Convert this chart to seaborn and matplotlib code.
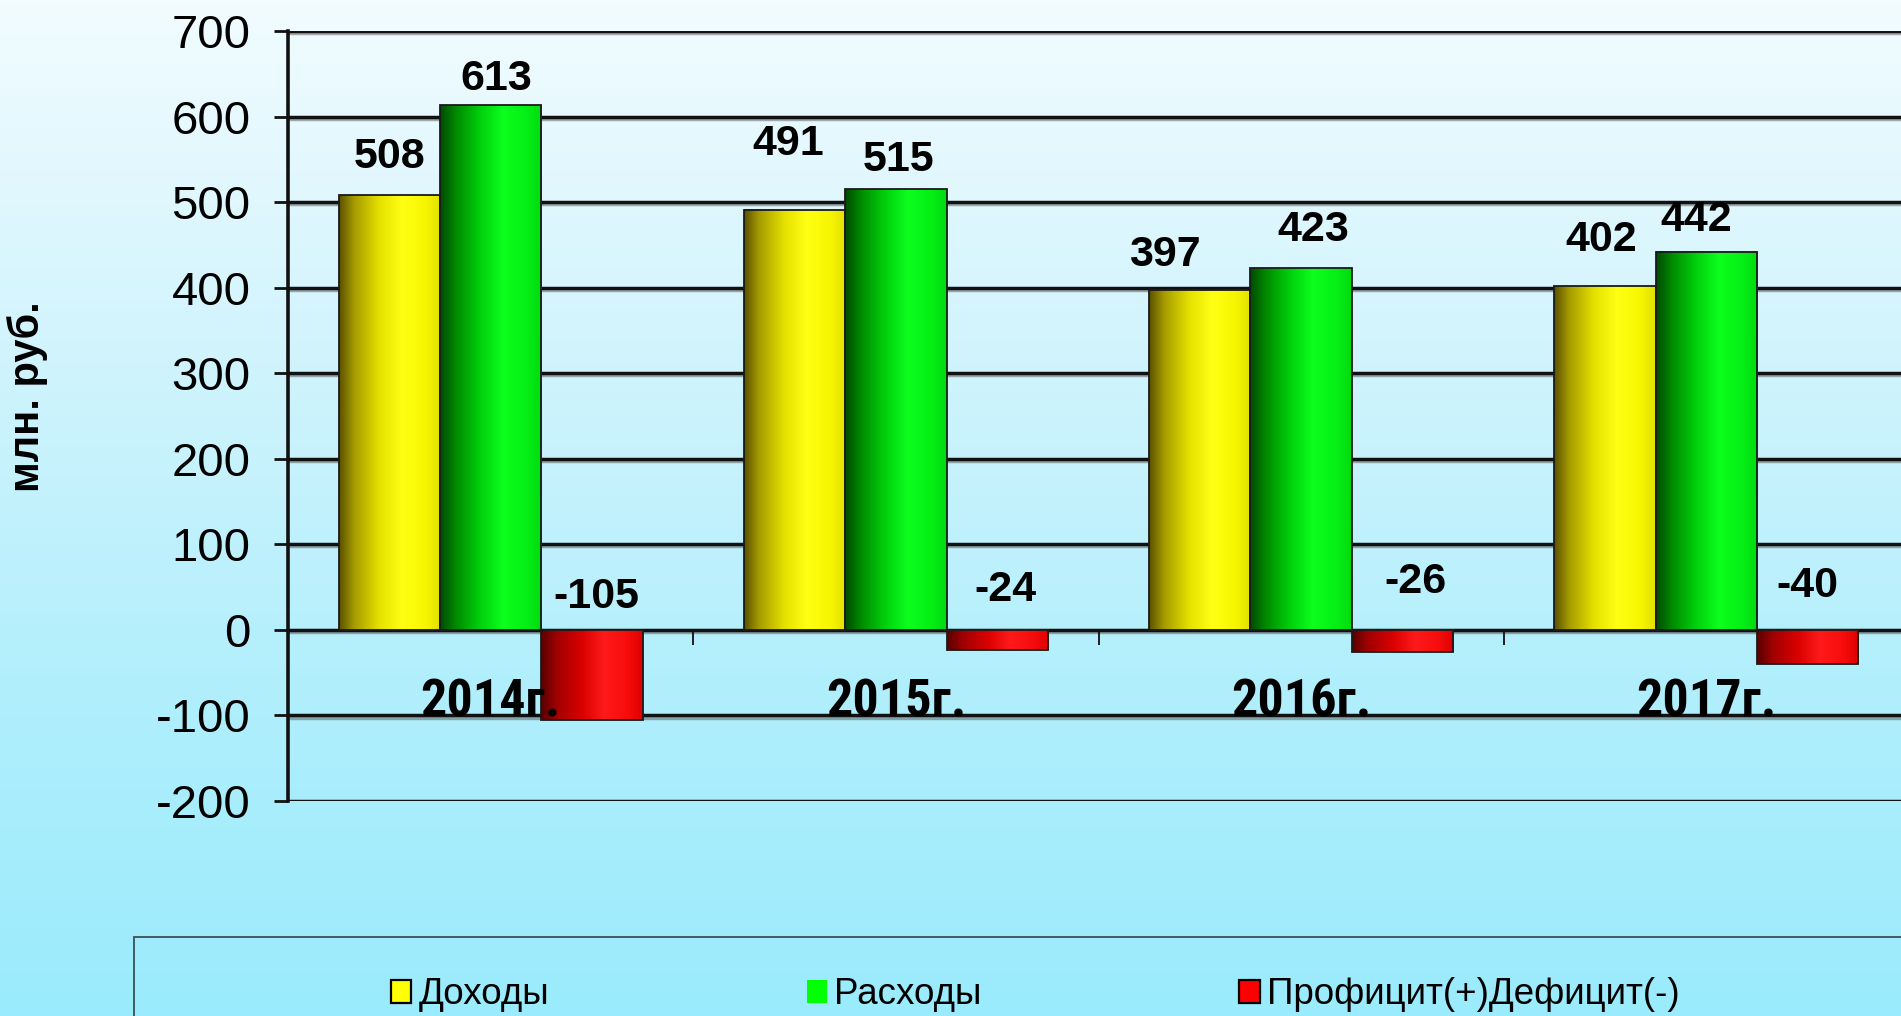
import numpy as np
import pandas as pd
import matplotlib
matplotlib.use("Agg")
import matplotlib.pyplot as plt
import matplotlib.patheffects as pe
from matplotlib.colors import LinearSegmentedColormap
from matplotlib.patches import Patch, Rectangle
import seaborn as sns

# ---------------- data ----------------
years = ["2014г.", "2015г.", "2016г.", "2017г."]
series_names = ["Доходы", "Расходы", "Профицит(+)Дефицит(-)"]
income = [508, 491, 397, 402]
expense = [613, 515, 423, 442]
balance = [-105, -24, -26, -40]
y_ticks = list(range(-200, 701, 100))
y_label = "млн. руб."

# label offsets (pixels) relative to bar top / zero line: style only
label_dx = [[0, -6, -35, -4], [6, 3, 12, -10], [4, 8, 13, 0]]
label_dy = [[27, 55, 24, 35], [15, 18, 27, 21], [22, 29, 37, 33]]

DPI = 100
W, H = 1901, 1016

sns.set_theme(style="white")
plt.rcParams["font.family"] = ["Liberation Sans", "DejaVu Sans"]
plt.rcParams["text.color"] = "black"

df = pd.DataFrame({
    "year": np.repeat([years], 3, axis=0).ravel(),
    "series": np.repeat(series_names, len(years)),
    "value": income + expense + balance,
})

fig = plt.figure(figsize=(W / DPI, H / DPI), dpi=DPI)

# background gradient
bg = fig.add_axes([0, 0, 1, 1], zorder=-10)
bg_cmap = LinearSegmentedColormap.from_list("bg", ["#f2fcff", "#d2f4fd", "#b2effc", "#9aebfd"])
bg.imshow(np.linspace(0, 1, 256).reshape(-1, 1), aspect="auto", cmap=bg_cmap,
          extent=[0, 1, 0, 1], interpolation="bicubic")
bg.set_axis_off()

left = 288 / W
right = 1909 / W
bottom = 1 - 801 / H
top = 1 - 31 / H
ax = fig.add_axes([left, bottom, right - left, top - bottom])
ax.set_facecolor("none")

solid = ["#ffff00", "#00ff00", "#ff0000"]
sns.barplot(data=df, x="year", y="value", hue="series", hue_order=series_names,
            order=years, palette=solid, width=0.75, ax=ax, legend=False,
            edgecolor="#1a1a1a", linewidth=1.3, saturation=1, zorder=3)

grad_stops = [
    ["#5a5000", "#a69c00", "#e6e200", "#ffff14", "#f6f600", "#e0e000"],
    ["#004a00", "#008800", "#00d20c", "#0cff1e", "#05ef15", "#00da10"],
    ["#580000", "#9e0000", "#da0000", "#ff1a1a", "#f70c0c", "#de0000"],
]
pos = [0, 0.15, 0.4, 0.62, 0.85, 1]
grad = np.linspace(0, 1, 256).reshape(1, -1)
px2pt = 72 / DPI
for i, cont in enumerate(ax.containers):
    cmap = LinearSegmentedColormap.from_list(f"g{i}", list(zip(pos, grad_stops[i])))
    for j, bar in enumerate(cont.patches):
        x0, w = bar.get_x(), bar.get_width()
        y0, h = bar.get_y(), bar.get_height()
        ax.imshow(grad, aspect="auto", cmap=cmap, extent=[x0, x0 + w, y0, y0 + h],
                  interpolation="bicubic", zorder=2.9)
        bar.set_facecolor("none")
        val = [income, expense, balance][i][j]
        anchor = max(val, 0)
        ax.annotate(f"{val}", xy=(x0 + w / 2, anchor),
                    xytext=(label_dx[i][j] * px2pt, label_dy[i][j] * px2pt),
                    textcoords="offset points", ha="center", va="baseline",
                    fontsize=31, fontweight="bold", color="black", zorder=5)

ax.set_xlim(-0.5, len(years) - 0.5)
ax.set_ylim(-200, 700)
ax.set_yticks(y_ticks)
ax.set_yticklabels([str(t) for t in y_ticks])
ax.set_xlabel("")

# grid
ax.set_axisbelow(True)
ax.yaxis.grid(True, color="#111111", linewidth=2.5)
for gl in ax.get_ygridlines():
    gl.set_path_effects([pe.SimpleLineShadow(offset=(1, -1.5), shadow_color="0.35", alpha=0.5),
                         pe.Normal()])
ax.xaxis.grid(False)
ax.xaxis.set_zorder(6)

for s in ["top", "right"]:
    ax.spines[s].set_visible(False)
ax.spines["left"].set_linewidth(2.6)
ax.spines["left"].set_color("#111111")
ax.spines["bottom"].set_position(("data", 0))
ax.spines["bottom"].set_linewidth(2.2)
ax.spines["bottom"].set_color("#111111")

ax.tick_params(axis="y", which="major", direction="out", length=10, width=2,
               color="#111111", pad=17, labelsize=34, labelcolor="black", left=True)

narrow_family = ["Roboto Condensed", "PT Sans Narrow", "Liberation Sans", "DejaVu Sans"]
ax.set_xticks(range(len(years)))
ax.set_xticklabels(years, fontsize=37.5, fontweight="bold", family=narrow_family)
ax.set_xticks(np.arange(0.5, len(years) - 0.5, 1), minor=True)
ax.tick_params(axis="x", which="major", length=0, pad=34, labelcolor="black", bottom=True)
ax.tick_params(axis="x", which="minor", length=11, width=1.3, color="#111111",
               direction="out", bottom=True)

# y label
ax.set_ylabel(y_label, fontsize=30, fontweight="bold", color="black")
ax.yaxis.set_label_coords((48 - 288) / (1909 - 288), (801 - 397) / 770)

# legend frame
fig.patches.append(Rectangle((134 / W, -0.1), 1.0, (1 - 937 / H) + 0.1,
                             transform=fig.transFigure, facecolor="none",
                             edgecolor="#3e5c62", linewidth=1.4, zorder=1))
handles = [
    Patch(facecolor=solid[0], edgecolor="black", linewidth=1.6),
    Patch(facecolor=solid[1], edgecolor="none"),
    Patch(facecolor=solid[2], edgecolor="black", linewidth=1.6),
]
fig.legend(handles, series_names, ncol=3, loc="center left",
           bbox_to_anchor=(391 / W, 1 - 995 / H), frameon=False, fontsize=26.5,
           handlelength=0.55, handleheight=0.55, handletextpad=0.2,
           columnspacing=7.0, borderaxespad=0, borderpad=0, labelcolor="black")

fig.savefig("out.png", dpi=DPI)
